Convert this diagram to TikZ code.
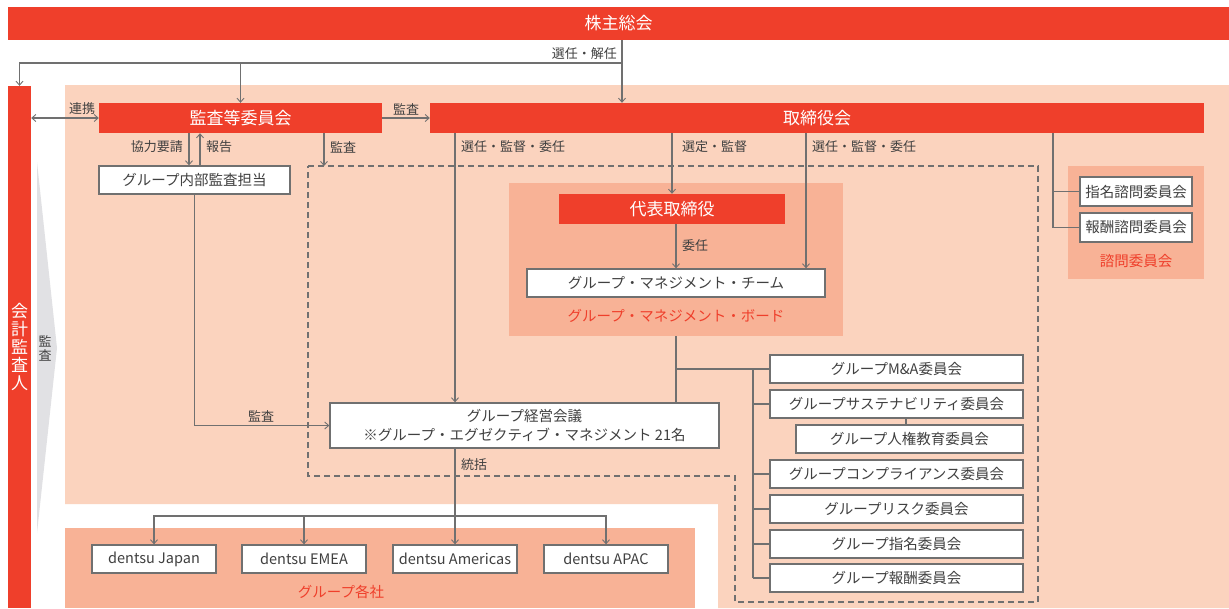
\documentclass[tikz,border=0pt]{standalone}
\usepackage{fontspec}
\setmainfont{Noto Sans CJK JP}
\usetikzlibrary{arrows.meta,calc}
\definecolor{cred}{RGB}{239,63,43}
\definecolor{cpeach}{RGB}{251,211,190}
\definecolor{cpeachd}{RGB}{248,178,150}
\definecolor{cchev}{RGB}{225,225,228}
\definecolor{cline}{RGB}{112,112,112}
\definecolor{ctext}{RGB}{64,64,64}
\begin{document}
\begin{tikzpicture}[x=1pt,y=-1pt,
  redbar/.style={fill=cred,text=white,inner sep=0pt,font=\fontsize{17}{20}\selectfont},
  wbox/.style={fill=white,draw=cline,line width=1.3pt,text=ctext,inner sep=0pt,font=\fontsize{14.5}{18}\selectfont},
  bgbox/.style={fill=cpeachd,inner sep=0pt},
  lbl/.style={text=ctext,inner sep=0pt,font=\fontsize{13}{15}\selectfont},
  redlbl/.style={text=cred,inner sep=0pt,font=\fontsize{14.5}{17}\selectfont},
  conn/.style={draw=cline,line width=1.3pt},
  arr/.style={conn,-{Straight Barb[length=4pt,width=7pt,line width=0.9pt]}},
  arrb/.style={conn,{Straight Barb[length=4pt,width=7pt,line width=0.9pt]}-{Straight Barb[length=4pt,width=7pt,line width=0.9pt]}},
  dashline/.style={draw=cline,line width=1.3pt,dash pattern=on 6pt off 4pt}]
\useasboundingbox (0,0) rectangle (1229,608);
\fill[white] (0,0) rectangle (1229,608);
% backgrounds
\fill[cpeach] (65,85) -- (1229,85) -- (1229,608) -- (718,608) -- (718,504) -- (65,504) -- cycle;
\node[bgbox,minimum width=630pt,minimum height=80pt] (groupbg) at (380,568) {};
\node[bgbox,minimum width=334pt,minimum height=153pt] (board) at (676,259.5) {};
\node[bgbox,minimum width=136pt,minimum height=113pt] (shimon) at (1136,222.5) {};
\fill[cchev] (37,162) -- (57,348) -- (37,533) -- cycle;
\node[lbl,align=center,font=\fontsize{13}{14}\selectfont] (kansachev) at (45,348) {監\\査};
\draw[dashline] (308,166) -- (1038,166) -- (1038,602) -- (735,602) -- (735,476) -- (308,476) -- cycle;
% red bars
\node[redbar,minimum width=1221pt,minimum height=33pt] (kabu) at (618.5,23.5) {株主総会};
\node[redbar,minimum width=23pt,minimum height=522pt,align=center,font=\fontsize{17}{17.8}\selectfont] (kaikei) at (19.5,347) {会\\計\\監\\査\\人};
\node[redbar,minimum width=283pt,minimum height=30pt] (kansa) at (240.5,118) {監査等委員会};
\node[redbar,minimum width=774pt,minimum height=30pt] (tori) at (817,118) {取締役会};
\node[redbar,minimum width=226pt,minimum height=30pt] (daihyo) at (672,209) {代表取締役};
% white boxes
\node[wbox,minimum width=191pt,minimum height=28pt] (naibu) at (194.5,180) {グループ内部監査担当};
\node[wbox,minimum width=298pt,minimum height=28pt] (gmt) at (676,283) {グループ・マネジメント・チーム};
\node[wbox,minimum width=389pt,minimum height=45pt,align=center,font=\fontsize{14.5}{18.5}\selectfont] (keiei) at (524.5,425.5) {グループ経営会議\\※グループ・エグゼクティブ・マネジメント 21名};
\node[wbox,minimum width=112pt,minimum height=29pt] (shimei) at (1136,191.5) {指名諮問委員会};
\node[wbox,minimum width=112pt,minimum height=29pt] (houshu) at (1136,227.5) {報酬諮問委員会};
\node[wbox,minimum width=253pt,minimum height=28pt] (ma) at (896.5,369) {グループM\&A委員会};
\node[wbox,minimum width=253pt,minimum height=28pt] (sus) at (896.5,404) {グループサステナビリティ委員会};
\node[wbox,minimum width=227pt,minimum height=28pt] (jinken) at (909.5,439) {グループ人権教育委員会};
\node[wbox,minimum width=253pt,minimum height=28pt] (comp) at (896.5,474) {グループコンプライアンス委員会};
\node[wbox,minimum width=253pt,minimum height=28pt] (risk) at (896.5,509) {グループリスク委員会};
\node[wbox,minimum width=253pt,minimum height=28pt] (shimeig) at (896.5,544) {グループ指名委員会};
\node[wbox,minimum width=253pt,minimum height=28pt] (houshug) at (896.5,578) {グループ報酬委員会};
\node[wbox,minimum width=124pt,minimum height=28pt] (japan) at (154,559) {dentsu Japan};
\node[wbox,minimum width=124pt,minimum height=28pt] (emea) at (304,559) {dentsu EMEA};
\node[wbox,minimum width=124pt,minimum height=28pt] (americas) at (455,559) {dentsu Americas};
\node[wbox,minimum width=124pt,minimum height=28pt] (apac) at (606,559) {dentsu APAC};
% red labels
\node[redlbl] (boardlbl) at (676,316) {グループ・マネジメント・ボード};
\node[redlbl] (shimonlbl) at (1136,261) {諮問委員会};
\node[redlbl] (grouplbl) at (341,592) {グループ各社};
% helper coordinates
\coordinate (split) at (622,63);
\coordinate (xk) at (189,0);
\coordinate (xh) at (200,0);
\coordinate (xd) at (324,166);
\coordinate (xs) at (455,0);
\coordinate (xg) at (806,0);
\coordinate (xm) at (1053,0);
\coordinate (bus) at (753,369);
\coordinate (xj) at (906,0);
\coordinate (hub) at (455,516);
% connectors
\draw[arr] (kabu.south -| split) -- (tori.north -| split);
\draw[arr] (split) -| (kaikei.north);
\draw[arr] (split -| kansa.north) -- (kansa.north);
\draw[arrb] (kaikei.east |- kansa.west) -- (kansa.west);
\draw[arr] (kansa.east) -- (tori.west);
\draw[arr] (kansa.south -| xk) -- (naibu.north -| xk);
\draw[arr] (naibu.north -| xh) -- (kansa.south -| xh);
\draw[arr] (kansa.south -| xd) -- (xd);
\draw[arr] (naibu.south) |- (keiei.west);
\draw[arr] (tori.south -| xs) -- (keiei.north -| xs);
\draw[arr] (tori.south -| daihyo.north) -- (daihyo.north);
\draw[arr] (tori.south -| xg) -- (gmt.north -| xg);
\draw[arr] (daihyo.south -| gmt.north) -- (gmt.north);
\draw[conn] (tori.south -| xm) |- (houshu.west);
\draw[conn] (xm |- shimei.west) -- (shimei.west);
\draw[conn] (board.south) -- (board.south |- keiei.north);
\draw[conn] (board.south |- ma.west) -- (ma.west);
\draw[conn] (bus) -- (bus |- houshug.west);
\draw[conn] (bus |- sus.west) -- (sus.west);
\draw[conn] (bus |- comp.west) -- (comp.west);
\draw[conn] (bus |- risk.west) -- (risk.west);
\draw[conn] (bus |- shimeig.west) -- (shimeig.west);
\draw[conn] (bus |- houshug.west) -- (houshug.west);
\draw[conn] (sus.south -| xj) -- (jinken.north -| xj);
\draw[arr] (keiei.south -| americas.north) -- (americas.north);
\draw[arr] (hub) -| (japan.north);
\draw[arr] (hub) -| (apac.north);
\draw[arr] (hub -| emea.north) -- (emea.north);
% connector labels
\node[lbl,anchor=east] (l1) at (617,54) {選任・解任};
\node[lbl] (l2) at (82,109) {連携};
\node[lbl] (l3) at (406,109) {監査};
\node[lbl,anchor=east] (l4) at (183,147) {協力要請};
\node[lbl,anchor=west] (l5) at (206,147) {報告};
\node[lbl,anchor=west] (l6) at (330,147) {監査};
\node[lbl,anchor=west] (l7) at (461,147) {選任・監督・委任};
\node[lbl,anchor=west] (l8) at (682,147) {選定・監督};
\node[lbl,anchor=west] (l9) at (812,147) {選任・監督・委任};
\node[lbl,anchor=west] (l10) at (682,246) {委任};
\node[lbl] (l11) at (261,416) {監査};
\node[lbl,anchor=west] (l12) at (461,465) {統括};
\end{tikzpicture}
\end{document}
